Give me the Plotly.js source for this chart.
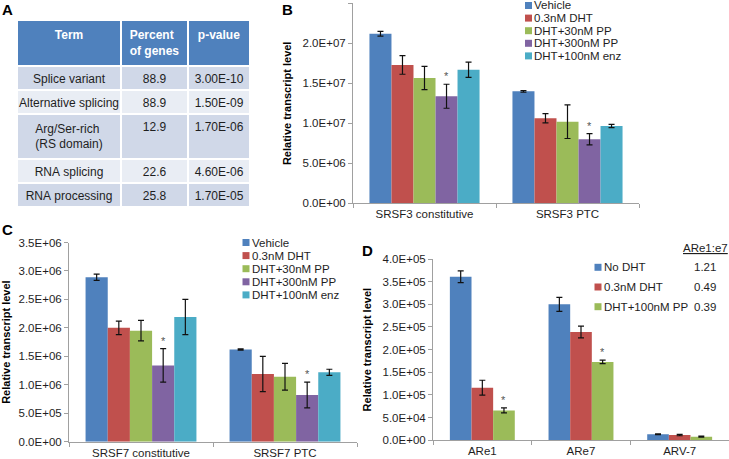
<!DOCTYPE html>
<html><head><meta charset="utf-8">
<script src="https://cdn.plot.ly/plotly-3.0.1.min.js"></script>
<style>html,body{margin:0;padding:0;background:#fff}#chart{width:729px;height:459px}</style>
</head><body><div id="chart"></div>
<script>
// ---------- Panel A: table ----------
const tableHeader = ['Term', 'Percent<br>of genes', 'p-value'];
const tableTerms = ['Splice variant', 'Alternative splicing', 'Arg/Ser-rich<br>(RS domain)', 'RNA splicing', 'RNA processing'];
const tablePercent = ['88.9', '88.9', '12.9', '22.6', '25.8'];
const tablePvalue = ['3.00E-10', '1.50E-09', '1.70E-06', '4.60E-06', '1.70E-05'];

// ---------- Panel B: SRSF3 ----------
const srsfSeries = ['Vehicle', '0.3nM DHT', 'DHT+30nM PP', 'DHT+300nM PP', 'DHT+100nM enz'];
const srsf3Categories = ['SRSF3 constitutive', 'SRSF3 PTC'];
const srsf3Vehicle = [2.12e7, 1.40e7];
const srsf3Dht = [1.73e7, 1.063e7];
const srsf3Pp30 = [1.566e7, 1.02e7];
const srsf3Pp300 = [1.338e7, 8.0e6];
const srsf3Enz = [1.67e7, 9.66e6];
const srsf3VehicleErr = [3.0e5, 1.0e5];
const srsf3DhtErr = [1.17e6, 5.8e5];
const srsf3Pp30Err = [1.46e6, 2.1e6];
const srsf3Pp300Err = [1.5e6, 7.0e5];
const srsf3EnzErr = [9.5e5, 2.0e5];
const srsf3Star = [[0, 0], [0, 0], [0, 0], [1, 1], [0, 0]];
const srsf3TickVals = [0, 5e6, 1e7, 1.5e7, 2e7, 2.5e7];
const srsf3TickText = ['0.0E+00', '5.0E+06', '1.0E+07', '1.5E+07', '2.0E+07', '2.5E+07'];

// ---------- Panel C: SRSF7 ----------
const srsf7Categories = ['SRSF7 constitutive', 'SRSF7 PTC'];
const srsf7Vehicle = [2.89e6, 1.62e6];
const srsf7Dht = [2.0e6, 1.19e6];
const srsf7Pp30 = [1.95e6, 1.14e6];
const srsf7Pp300 = [1.34e6, 8.2e5];
const srsf7Enz = [2.19e6, 1.22e6];
const srsf7VehicleErr = [5.5e4, 1.0e4];
const srsf7DhtErr = [1.17e5, 3.1e5];
const srsf7Pp30Err = [1.8e5, 2.35e5];
const srsf7Pp300Err = [2.95e5, 2.26e5];
const srsf7EnzErr = [3.1e5, 5.3e4];
const srsf7Star = [[0, 0], [0, 0], [0, 0], [1, 1], [0, 0]];
const srsf7TickVals = [0, 5e5, 1e6, 1.5e6, 2e6, 2.5e6, 3e6, 3.5e6];
const srsf7TickText = ['0.0E+00', '5.0E+05', '1.0E+06', '1.5E+06', '2.0E+06', '2.5E+06', '3.0E+06', '3.5E+06'];

// ---------- Panel D: AR ----------
const arSeries = ['No DHT', '0.3nM DHT', 'DHT+100nM PP'];
const arCategories = ['ARe1', 'ARe7', 'ARV-7'];
const arNoDht = [3.61e5, 3.0e5, 1.35e4];
const arDht = [1.16e5, 2.39e5, 1.15e4];
const arPp100 = [6.6e4, 1.73e5, 8.0e3];
const arNoDhtErr = [1.3e4, 1.55e4, 1.0e3];
const arDhtErr = [1.65e4, 1.3e4, 1.5e3];
const arPp100Err = [5.5e3, 4.0e3, 1.0e3];
const arStar = [[0, 0, 0], [0, 0, 0], [1, 1, 0]];
const arRatioTitle = 'ARe1:e7';
const arRatios = ['1.21', '0.49', '0.39'];
const arTickVals = [0, 5e4, 1e5, 1.5e5, 2e5, 2.5e5, 3e5, 3.5e5, 4e5];
const arTickText = ['0.0E+00', '5.0E+04', '1.0E+05', '1.5E+05', '2.0E+05', '2.5E+05', '3.0E+05', '3.5E+05', '4.0E+05'];

const yTitle = 'Relative transcript level';
const panelLabels = ['A', 'B', 'C', 'D'];

// ---------- styling / layout ----------
const W = 729, H = 459;
const px = v => v / W;
const py = v => 1 - v / H;
const FONT = 'Liberation Sans, Arial, sans-serif';
const TXT = '#1e1e1e';
const AXC = '#a0a0a0';
const colors5 = ['#4F81BD', '#C0504D', '#9BBB59', '#8064A2', '#4BACC6'];
const colors3 = ['#4F81BD', '#C0504D', '#9BBB59'];
const BARGAP = 0.23;
const BARGAP_D = 0.342;

const panels = {
  B: {xd: [353, 639], yd: [3.3, 203.3]},
  C: {xd: [69, 357], yd: [242.5, 441.7]},
  D: {xd: [433, 729], yd: [259, 440.3]}
};

const traces = [];

// table (non-breaking spaces keep each term on its own line, as in the reference)
const noWrap = s => s.replace(/ /g, '\u00a0');
const rowFill = tableTerms.map((_, i) => i % 2 === 0 ? '#D0D8E8' : '#E9EDF4');
traces.push({
  type: 'table',
  domain: {x: [px(17), px(250)], y: [py(222), py(20)]},
  columnwidth: [104, 67, 62],
  header: {
    values: tableHeader.map(h => '<b>' + h + '</b>'),
    fill: {color: '#4F81BD'},
    line: {color: '#ffffff', width: 2},
    align: 'center',
    height: 35,
    font: {family: FONT, size: 12, color: '#ffffff'}
  },
  cells: {
    values: [tableTerms.map(noWrap), tablePercent, tablePvalue],
    fill: {color: [rowFill, rowFill, rowFill]},
    line: {color: '#ffffff', width: 2},
    align: 'center',
    height: 24,
    font: {family: FONT, size: 12, color: TXT}
  }
});

function addBars(xa, ya, cats, names, vals, errs, cols, opts) {
  vals.forEach((v, i) => {
    const t = {
      type: 'bar', x: cats, y: v, name: names[i], xaxis: xa, yaxis: ya,
      marker: {color: cols[i], line: {width: 0}},
      showlegend: false,
      error_y: {type: 'data', array: errs[i], visible: true, color: '#111', thickness: 1.2, width: 3}
    };
    if (opts && opts.width) {
      t.width = opts.width;
      t.offset = -opts.width * names.length / 2 + i * opts.width;
    }
    traces.push(t);
  });
}

addBars('x', 'y', srsf3Categories, srsfSeries,
  [srsf3Vehicle, srsf3Dht, srsf3Pp30, srsf3Pp300, srsf3Enz],
  [srsf3VehicleErr, srsf3DhtErr, srsf3Pp30Err, srsf3Pp300Err, srsf3EnzErr], colors5);
addBars('x2', 'y2', srsf7Categories, srsfSeries,
  [srsf7Vehicle, srsf7Dht, srsf7Pp30, srsf7Pp300, srsf7Enz],
  [srsf7VehicleErr, srsf7DhtErr, srsf7Pp30Err, srsf7Pp300Err, srsf7EnzErr], colors5);
const dBarW = (1 - BARGAP_D) / arSeries.length;
addBars('x3', 'y3', arCategories, arSeries,
  [arNoDht, arDht, arPp100], [arNoDhtErr, arDhtErr, arPp100Err], colors3, {width: dBarW});

const annotations = [];
const shapes = [];

// asterisks
function addStars(xa, ya, panel, cats, vals, errs, stars, gap) {
  const catPx = (panel.xd[1] - panel.xd[0]) / cats.length;
  const barPx = catPx * (1 - gap) / vals.length;
  vals.forEach((v, i) => {
    cats.forEach((c, j) => {
      if (stars[i][j]) {
        annotations.push({
          xref: xa, yref: ya, x: c, y: v[j] + errs[i][j], text: '*', showarrow: false,
          xanchor: 'center', yanchor: 'bottom', yshift: 0,
          xshift: (i - (vals.length - 1) / 2) * barPx,
          font: {family: FONT, size: 11, color: '#555'}
        });
      }
    });
  });
}
addStars('x', 'y', panels.B, srsf3Categories,
  [srsf3Vehicle, srsf3Dht, srsf3Pp30, srsf3Pp300, srsf3Enz],
  [srsf3VehicleErr, srsf3DhtErr, srsf3Pp30Err, srsf3Pp300Err, srsf3EnzErr], srsf3Star, BARGAP);
addStars('x2', 'y2', panels.C, srsf7Categories,
  [srsf7Vehicle, srsf7Dht, srsf7Pp30, srsf7Pp300, srsf7Enz],
  [srsf7VehicleErr, srsf7DhtErr, srsf7Pp30Err, srsf7Pp300Err, srsf7EnzErr], srsf7Star, BARGAP);
addStars('x3', 'y3', panels.D, arCategories,
  [arNoDht, arDht, arPp100], [arNoDhtErr, arDhtErr, arPp100Err], arStar, BARGAP_D);

// legends (compact, Excel-like)
function addLegend(names, cols, sqX, textX, y0, dy, sq) {
  names.forEach((n, i) => {
    const yc = y0 + i * dy;
    shapes.push({type: 'rect', xref: 'paper', yref: 'paper',
      x0: px(sqX), x1: px(sqX + sq), y0: py(yc + sq / 2), y1: py(yc - sq / 2),
      fillcolor: cols[i], line: {width: 0}});
    annotations.push({xref: 'paper', yref: 'paper', x: px(textX), y: py(yc), text: n,
      showarrow: false, xanchor: 'left', yanchor: 'middle',
      font: {family: FONT, size: 11.5, color: TXT}});
  });
}
addLegend(srsfSeries, colors5, 525, 532, 5.5, 12.6, 7);
addLegend(srsfSeries, colors5, 242.5, 249.5, 242.5, 13.1, 7);
addLegend(arSeries, colors3, 594.5, 601.5, 267.3, 19.7, 7);
annotations.push({xref: 'paper', yref: 'paper', x: px(705), y: py(247.5), text: '<u>' + arRatioTitle + '</u>',
  showarrow: false, xanchor: 'center', yanchor: 'middle', font: {family: FONT, size: 11.5, color: TXT}});
arRatios.forEach((r, i) => {
  annotations.push({xref: 'paper', yref: 'paper', x: px(705), y: py(267.3 + i * 19.7), text: r,
    showarrow: false, xanchor: 'center', yanchor: 'middle', font: {family: FONT, size: 11.5, color: TXT}});
});

// panel labels
const labelPos = [[7, 10], [287, 9], [7, 230], [368, 250]];
panelLabels.forEach((l, i) => {
  annotations.push({xref: 'paper', yref: 'paper', x: px(labelPos[i][0]), y: py(labelPos[i][1]), text: '<b>' + l + '</b>',
    showarrow: false, xanchor: 'center', yanchor: 'middle', font: {family: FONT, size: 15, color: '#000'}});
});

function xAxis(panel, anchor) {
  return {domain: [px(panel.xd[0]), px(panel.xd[1])], anchor: anchor, type: 'category',
    showline: true, linecolor: AXC, linewidth: 1, ticks: 'outside', tickson: 'boundaries',
    ticklen: 4, tickcolor: AXC, showgrid: false, zeroline: false, fixedrange: true,
    tickfont: {family: FONT, size: 11.5, color: TXT}};
}
function yAxis(panel, anchor, vals, text) {
  return {domain: [py(panel.yd[1]), py(panel.yd[0])], anchor: anchor,
    range: [vals[0], vals[vals.length - 1]], tickmode: 'array', tickvals: vals, ticktext: text,
    showline: true, linecolor: AXC, linewidth: 1, ticks: 'outside', ticklen: 4, tickcolor: AXC,
    showgrid: false, zeroline: false, fixedrange: true,
    tickfont: {family: FONT, size: 11.5, color: TXT},
    title: {text: yTitle, standoff: 8, font: {family: FONT, size: 11, color: '#000', weight: 'bold'}}};
}

const layout = {
  width: W, height: H, margin: {l: 0, r: 0, t: 0, b: 0},
  paper_bgcolor: '#fff', plot_bgcolor: 'rgba(0,0,0,0)',
  barmode: 'group', bargap: BARGAP, bargroupgap: 0, showlegend: false,
  font: {family: FONT, color: TXT},
  xaxis: xAxis(panels.B, 'y'),
  yaxis: yAxis(panels.B, 'x', srsf3TickVals, srsf3TickText),
  xaxis2: xAxis(panels.C, 'y2'),
  yaxis2: yAxis(panels.C, 'x2', srsf7TickVals, srsf7TickText),
  xaxis3: xAxis(panels.D, 'y3'),
  yaxis3: yAxis(panels.D, 'x3', arTickVals, arTickText),
  annotations: annotations, shapes: shapes
};

Plotly.newPlot('chart', traces, layout, {staticPlot: true, displayModeBar: false});
</script></body></html>
